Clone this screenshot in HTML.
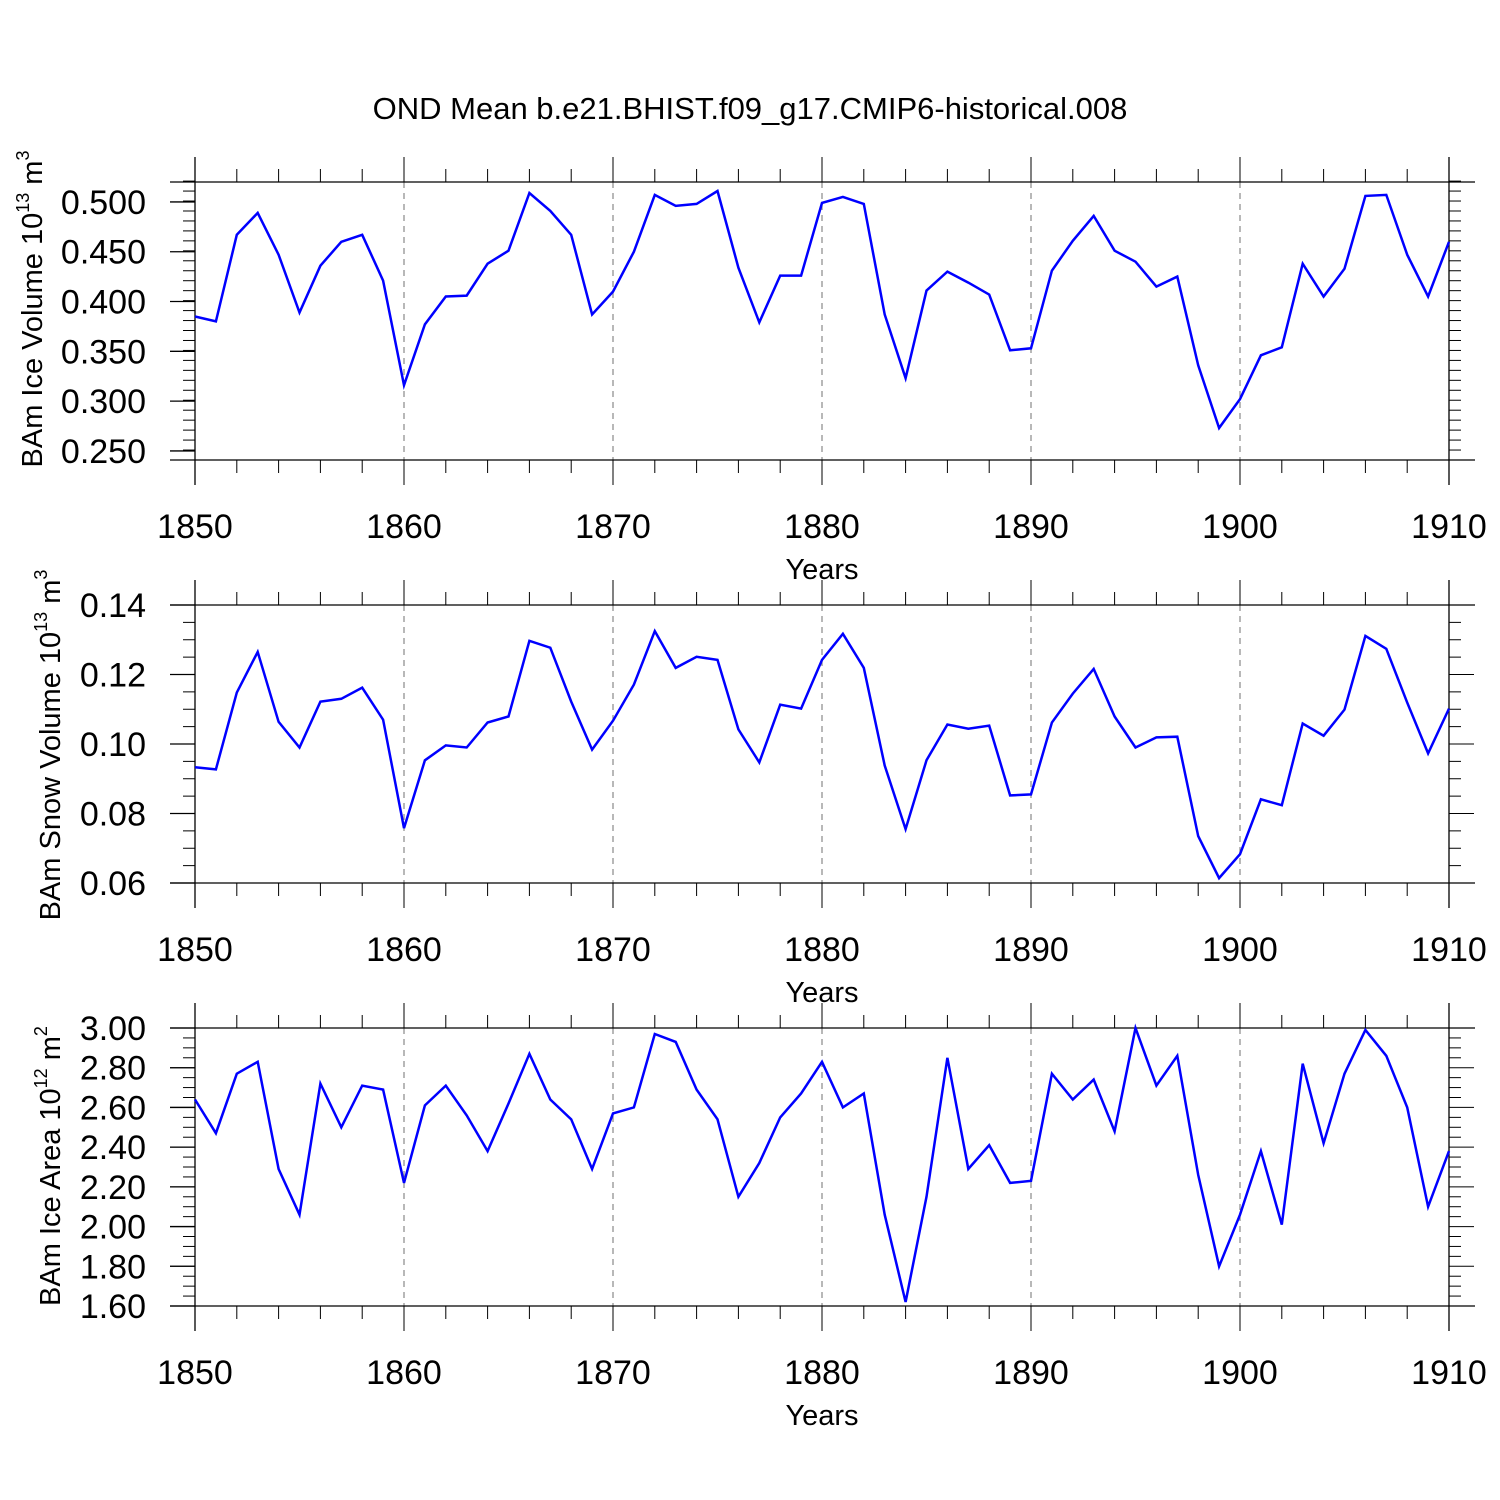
<!DOCTYPE html>
<html><head><meta charset="utf-8"><style>
html,body{margin:0;padding:0;background:#fff;}
svg{display:block;font-family:"Liberation Sans",sans-serif;}
</style></head><body>
<svg id="chart" width="1500" height="1500" viewBox="0 0 1500 1500" xmlns="http://www.w3.org/2000/svg">
<rect width="1500" height="1500" fill="#fff"/>
<text x="750" y="119" font-size="31" text-anchor="middle">OND Mean b.e21.BHIST.f09_g17.CMIP6-historical.008</text>
</svg>
<script>
const years = [];
for (let y = 1850; y <= 1910; y++) years.push(y);
const iceVolume = [0.385,0.380,0.467,0.489,0.447,0.389,0.436,0.460,0.467,0.421,0.316,0.377,0.405,0.406,0.438,0.451,0.509,0.491,0.467,0.387,0.410,0.450,0.507,0.496,0.498,0.511,0.434,0.379,0.426,0.426,0.499,0.505,0.498,0.387,0.323,0.411,0.430,0.419,0.407,0.351,0.353,0.431,0.461,0.486,0.451,0.440,0.415,0.425,0.336,0.273,0.302,0.346,0.354,0.438,0.405,0.433,0.506,0.507,0.447,0.405,0.460];
const snowVolume = [0.0933,0.0927,0.1148,0.1265,0.1064,0.0990,0.1122,0.1130,0.1162,0.1070,0.0758,0.0953,0.0996,0.0990,0.1062,0.1079,0.1297,0.1277,0.1122,0.0984,0.1067,0.1171,0.1325,0.1219,0.1251,0.1242,0.1042,0.0947,0.1113,0.1102,0.1242,0.1317,0.1219,0.0938,0.0755,0.0953,0.1056,0.1044,0.1053,0.0852,0.0855,0.1062,0.1145,0.1216,0.1079,0.0990,0.1019,0.1021,0.0735,0.0614,0.0683,0.0841,0.0824,0.1059,0.1024,0.1099,0.1311,0.1274,0.1119,0.0973,0.1102];
const iceArea = [2.64,2.47,2.77,2.83,2.29,2.06,2.72,2.50,2.71,2.69,2.22,2.61,2.71,2.56,2.38,2.62,2.87,2.64,2.54,2.29,2.57,2.60,2.97,2.93,2.69,2.54,2.15,2.32,2.55,2.67,2.83,2.60,2.67,2.06,1.62,2.15,2.85,2.29,2.41,2.22,2.23,2.77,2.64,2.74,2.48,3.00,2.71,2.86,2.26,1.80,2.06,2.38,2.01,2.82,2.42,2.77,2.99,2.86,2.60,2.10,2.38];
const xTickLabels = ["1850","1860","1870","1880","1890","1900","1910"];
const iceVolTicks = ["0.250","0.300","0.350","0.400","0.450","0.500"];
const snowVolTicks = ["0.06","0.08","0.10","0.12","0.14"];
const iceAreaTicks = ["1.60","1.80","2.00","2.20","2.40","2.60","2.80","3.00"];

const NS = "http://www.w3.org/2000/svg";
const svg = document.getElementById('chart');
function mk(tag, attrs, parent){
  const e = document.createElementNS(NS, tag);
  for (const k in attrs) e.setAttribute(k, attrs[k]);
  (parent||svg).appendChild(e);
  return e;
}
const X0 = 195, X1 = 1449;
function xScale(yr){ return X0 + (yr - 1850) / 60 * (X1 - X0); }

function panel(cfg){
  const g = mk('g', {});
  
  
  const top = cfg.top, bot = cfg.top + 278;
  const yScale = v => bot - (v - cfg.ymin) / (cfg.ymax - cfg.ymin) * (bot - top);
  for (let yr = 1860; yr <= 1900; yr += 10) {
    const l = mk('line', {x1:xScale(yr), x2:xScale(yr), y1:top, y2:bot, stroke:'#888', 'stroke-width':1.2, 'stroke-dasharray':'6,5'}, g);
    
    
  }
  mk('line', {x1:170, x2:1475, y1:top, y2:top, stroke:'#000', 'stroke-width':1.3}, g);
  mk('line', {x1:170, x2:1475, y1:bot, y2:bot, stroke:'#000', 'stroke-width':1.3}, g);
  mk('line', {x1:X0, x2:X0, y1:top-25, y2:bot+25, stroke:'#000', 'stroke-width':1.3}, g);
  mk('line', {x1:X1, x2:X1, y1:top-25, y2:bot+25, stroke:'#000', 'stroke-width':1.3}, g);
  for (let yr = 1850; yr <= 1910; yr += 2) {
    const x = xScale(yr), major = (yr % 10 === 0);
    const len = major ? 25 : 13;
    mk('line', {x1:x, x2:x, y1:top-len, y2:top, stroke:'#000', 'stroke-width':1}, g);
    mk('line', {x1:x, x2:x, y1:bot, y2:bot+len, stroke:'#000', 'stroke-width':1}, g);
  }
  xTickLabels.forEach(lbl => {
    const t = mk('text', {x:xScale(+lbl), y:bot+78, 'font-size':34, 'text-anchor':'middle'}, g);
    
    
    t.textContent = lbl;
  });
  const xt = mk('text', {x:822, y:bot+119, 'font-size':29, 'text-anchor':'middle'}, g);
  
  
  xt.textContent = 'Years';
  const nMinor = Math.round((cfg.ymax - cfg.ymin) / cfg.minor);
  for (let i = 0; i <= nMinor; i++) {
    const v = cfg.ymin + i * cfg.minor;
    const y = yScale(v);
    const r = (v - cfg.tickBase) / cfg.major;
    const isMajor = Math.abs(r - Math.round(r)) < 1e-6;
    const len = isMajor ? 25 : 12;
    mk('line', {x1:X0-len, x2:X0, y1:y, y2:y, stroke:'#000', 'stroke-width':1}, g);
    mk('line', {x1:X1, x2:X1+len, y1:y, y2:y, stroke:'#000', 'stroke-width':1}, g);
  }
  cfg.ticks.forEach(lbl => {
    const y = yScale(parseFloat(lbl));
    mk('line', {x1:170, x2:X0, y1:y, y2:y, stroke:'#000', 'stroke-width':1.3}, g);
    const t = mk('text', {x:146, y:y+12, 'font-size':34, 'text-anchor':'end'}, g);
    
    
    t.textContent = lbl;
  });
  const cy = cfg.titleY;
  const yt = mk('text', {x:0, y:0, 'font-size':29, 'text-anchor':'middle', transform:`translate(${cfg.titleX},${cy}) rotate(-90)`}, g);
  
  
  yt.appendChild(document.createTextNode(cfg.title + ' 10'));
  const sup = document.createElementNS(NS, 'tspan');
  sup.setAttribute('dy', '-13'); sup.setAttribute('font-size', '18');
  sup.textContent = cfg.exp;
  yt.appendChild(sup);
  const un = document.createElementNS(NS, 'tspan');
  un.setAttribute('dy', '13');
  un.textContent = ' m';
  yt.appendChild(un);
  const sup2 = document.createElementNS(NS, 'tspan');
  sup2.setAttribute('dy', '-13'); sup2.setAttribute('font-size', '18');
  sup2.textContent = cfg.unitExp;
  yt.appendChild(sup2);
  const pts = years.map((yr, i) => xScale(yr).toFixed(1) + ',' + yScale(cfg.data[i]).toFixed(1)).join(' ');
  const pl = mk('polyline', {points:pts, fill:'none', stroke:'#0000ff', 'stroke-width':2.5, 'stroke-linejoin':'miter'}, g);
  
  
}

panel({name:'ice-volume-panel', top:182, ymin:0.2409, ymax:0.52, tickBase:0.25, major:0.05, minor:0.01, ticks:iceVolTicks, data:iceVolume, title:'BAm Ice Volume', exp:'13', unitExp:'3', titleX:42, titleY:309});
panel({name:'snow-volume-panel', top:605, ymin:0.06, ymax:0.14, tickBase:0.06, major:0.02, minor:0.005, ticks:snowVolTicks, data:snowVolume, title:'BAm Snow Volume', exp:'13', unitExp:'3', titleX:60, titleY:745});
panel({name:'ice-area-panel', top:1028, ymin:1.6, ymax:3.0, tickBase:1.6, major:0.2, minor:0.05, ticks:iceAreaTicks, data:iceArea, title:'BAm Ice Area', exp:'12', unitExp:'2', titleX:60, titleY:1166});
</script>
</body></html>
